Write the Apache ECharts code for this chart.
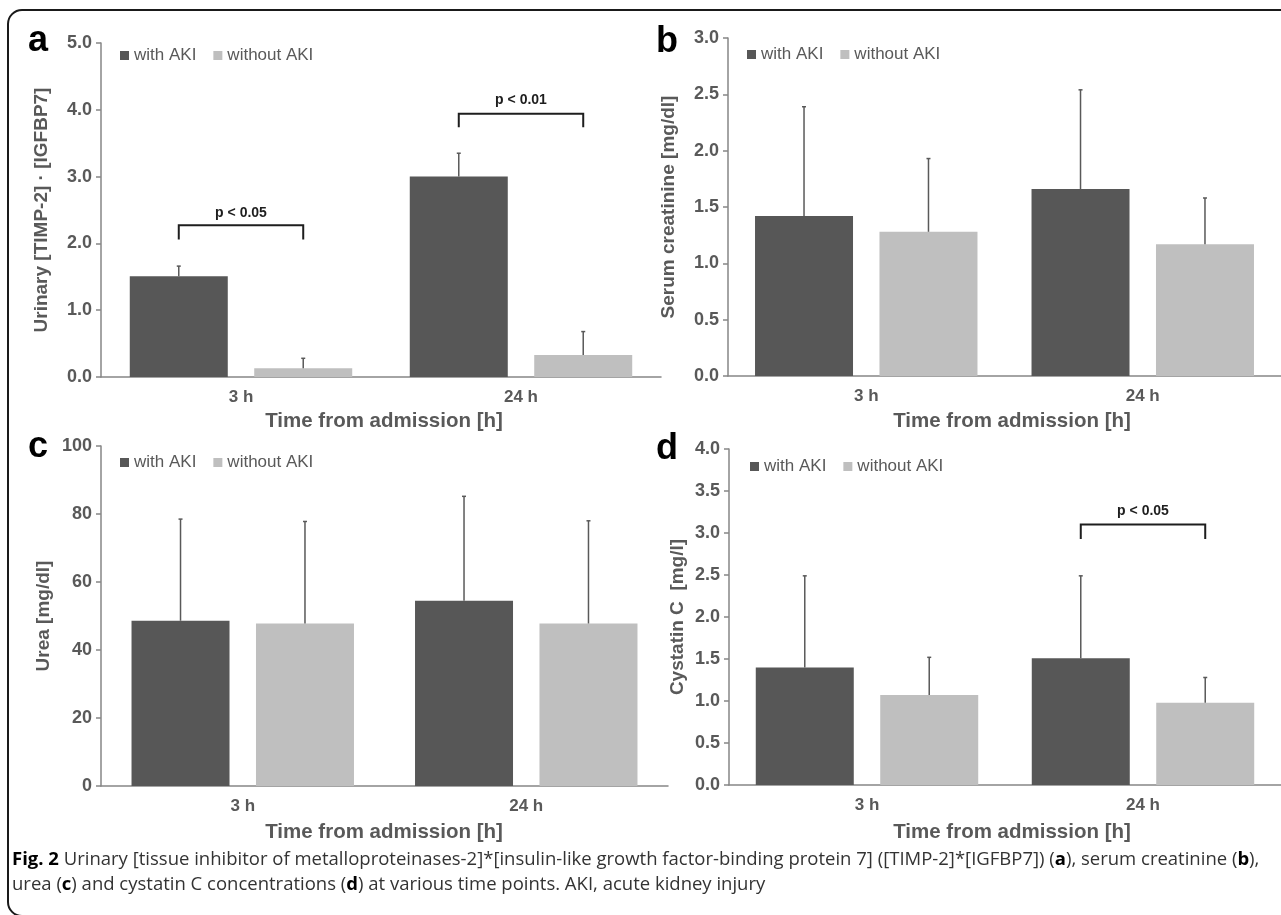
<!DOCTYPE html>
<html>
<head>
<meta charset="utf-8">
<script src="https://cdn.jsdelivr.net/npm/echarts@6/dist/echarts.min.js"></script>
<style>
html,body{margin:0;padding:0;background:#fff;}
#chart{width:1281px;height:915px;}
</style>
</head>
<body>
<div id="chart"></div>
<script>
// ---------- data ----------
const categories = ['3 h', '24 h'];
const seriesNames = ['with AKI', 'without AKI'];

// panel a: urinary [TIMP-2]·[IGFBP7]
const aWith = [1.51, 3.00];
const aWithErr = [1.66, 3.35];
const aWithout = [0.13, 0.33];
const aWithoutErr = [0.28, 0.68];
const aAxis = [0, 5, 1];
// [category, bracket level, leg bottom, label level, text]
const aBrackets = [[0, 2.27, 2.06, 2.46, 'p < 0.05'], [1, 3.94, 3.74, 4.15, 'p < 0.01']];

// panel b: serum creatinine
const bWith = [1.42, 1.66];
const bWithErr = [2.39, 2.54];
const bWithout = [1.28, 1.17];
const bWithoutErr = [1.93, 1.58];
const bAxis = [0, 3, 0.5];
const bBrackets = [];

// panel c: urea
const cWith = [48.6, 54.5];
const cWithErr = [78.5, 85.2];
const cWithout = [47.8, 47.8];
const cWithoutErr = [77.8, 78.0];
const cAxis = [0, 100, 20];
const cBrackets = [];

// panel d: cystatin C
const dWith = [1.40, 1.51];
const dWithErr = [2.49, 2.49];
const dWithout = [1.07, 0.98];
const dWithoutErr = [1.52, 1.28];
const dAxis = [0, 4, 0.5];
const dBrackets = [[1, 3.10, 2.93, 3.26, 'p < 0.05']];

const yNames = ['Urinary [TIMP-2] \u00b7 [IGFBP7]', 'Serum creatinine [mg/dl]', 'Urea [mg/dl]', 'Cystatin C  [mg/l]'];
const xTitle = 'Time from admission [h]';
const letters = ['a', 'b', 'c', 'd'];

// ---------- layout / style ----------
const FONT = "'Liberation Sans', Arial, sans-serif";
const DARK = '#575757', LIGHT = '#bfbfbf', GREY = '#595959', AXIS = '#868686';
const BAR_W = 98, GAP = 0.27;
const OFFSET = (BAR_W + BAR_W * GAP) / 2;

const panels = [
  {w: aWith, we: aWithErr, o: aWithout, oe: aWithoutErr, ax: aAxis, br: aBrackets, dec: 1,
   grid: {left: 101, top: 43, width: 560, height: 334}, legend: {left: 120, top: 47}, nameGap: 50,
   title: [384, 421], letter: [28, 41]},
  {w: bWith, we: bWithErr, o: bWithout, oe: bWithoutErr, ax: bAxis, br: bBrackets, dec: 1,
   grid: {left: 728, top: 38, width: 562, height: 338}, legend: {left: 747, top: 46}, nameGap: 50,
   title: [1012, 421], letter: [656, 42]},
  {w: cWith, we: cWithErr, o: cWithout, oe: cWithoutErr, ax: cAxis, br: cBrackets, dec: 0,
   grid: {left: 101, top: 446, width: 567, height: 340}, legend: {left: 120, top: 454}, nameGap: 48,
   title: [384, 832], letter: [28, 447]},
  {w: dWith, we: dWithErr, o: dWithout, oe: dWithoutErr, ax: dAxis, br: dBrackets, dec: 1,
   grid: {left: 729, top: 449, width: 562, height: 336}, legend: {left: 750, top: 458}, nameGap: 42,
   title: [1012, 832], letter: [656, 449]}
];

function errRender(params, api) {
  const cat = api.value(0), mean = api.value(1), top = api.value(2), side = api.value(3);
  const p0 = api.coord([cat, mean]);
  const p1 = api.coord([cat, top]);
  const x = p0[0] + side * OFFSET;
  const st = {stroke: GREY, lineWidth: 1.5};
  return {type: 'group', children: [
    {type: 'line', shape: {x1: x, y1: p0[1], x2: x, y2: p1[1]}, style: st},
    {type: 'line', shape: {x1: x - 2, y1: p1[1], x2: x + 2, y2: p1[1]}, style: st}
  ]};
}

function bracketRender(params, api) {
  const d = panelsBr[params.seriesIndex][params.dataIndex];
  const cat = d[0];
  const pb = api.coord([cat, d[1]]);
  const pl = api.coord([cat, d[2]]);
  const pt = api.coord([cat, d[3]]);
  const xl = pb[0] - OFFSET, xr = pb[0] + OFFSET;
  return {type: 'group', children: [
    {type: 'polyline', shape: {points: [[xl, pl[1]], [xl, pb[1]], [xr, pb[1]], [xr, pl[1]]]},
     style: {stroke: '#1e1e1e', lineWidth: 2, fill: null}},
    {type: 'text', style: {text: d[4], x: pb[0], y: pt[1], align: 'center', verticalAlign: 'middle',
     font: "bold 14px " + FONT, fill: '#1e1e1e'}}
  ]};
}

const panelsBr = {};
const grid = [], xAxis = [], yAxis = [], series = [], legend = [], graphic = [];

panels.forEach((p, i) => {
  grid.push(p.grid);
  xAxis.push({type: 'category', gridIndex: i, data: categories,
    axisLine: {lineStyle: {color: AXIS, width: 1.5}}, axisTick: {show: false},
    axisLabel: {color: GREY, fontFamily: FONT, fontWeight: 'bold', fontSize: 17, margin: 12}});
  yAxis.push({type: 'value', gridIndex: i, min: p.ax[0], max: p.ax[1], interval: p.ax[2],
    name: yNames[i], nameLocation: 'middle', nameRotate: 90, nameGap: p.nameGap,
    nameTextStyle: {color: GREY, fontFamily: FONT, fontWeight: 'bold', fontSize: 19},
    axisLine: {show: true, lineStyle: {color: AXIS, width: 1.5}},
    axisTick: {show: true, length: 5, lineStyle: {color: AXIS, width: 1.5}},
    splitLine: {show: false},
    axisLabel: {color: GREY, fontFamily: FONT, fontWeight: 'bold', fontSize: 18, margin: 9,
      formatter: v => v.toFixed(p.dec)}});
  series.push({type: 'bar', name: seriesNames[0], xAxisIndex: i, yAxisIndex: i, data: p.w,
    barWidth: BAR_W, barGap: (GAP * 100) + '%', itemStyle: {color: DARK}, z: 2});
  series.push({type: 'bar', name: seriesNames[1], xAxisIndex: i, yAxisIndex: i, data: p.o,
    barWidth: BAR_W, barGap: (GAP * 100) + '%', itemStyle: {color: LIGHT}, z: 2});
  const err = [];
  p.w.forEach((v, k) => err.push([k, v, p.we[k], -1]));
  p.o.forEach((v, k) => err.push([k, v, p.oe[k], 1]));
  series.push({type: 'custom', xAxisIndex: i, yAxisIndex: i, renderItem: errRender,
    data: err, encode: {x: 0, y: [1, 2]}, z: 3, silent: true});
  if (p.br.length) {
    const idx = series.length;
    panelsBr[idx] = p.br;
    series.push({type: 'custom', xAxisIndex: i, yAxisIndex: i, renderItem: bracketRender,
      data: p.br.map(b => [b[0], b[1], b[2], b[3]]), encode: {x: 0, y: [1, 2, 3]}, z: 4, silent: true});
  }
  legend.push({left: p.legend.left, top: p.legend.top, data: seriesNames, icon: 'rect',
    itemWidth: 9, itemHeight: 9, itemGap: 17, selectedMode: false, padding: 0,
    textStyle: {color: GREY, fontFamily: FONT, fontSize: 17}});
  graphic.push({type: 'text', x: p.title[0], y: p.title[1],
    style: {text: xTitle, align: 'center', verticalAlign: 'middle', font: 'bold 20.5px ' + FONT, fill: GREY}});
  graphic.push({type: 'text', x: p.letter[0], y: p.letter[1],
    style: {text: letters[i], align: 'left', verticalAlign: 'middle', font: 'bold 36px ' + FONT, fill: '#000'}});
});

// frame
graphic.push({type: 'rect', shape: {x: 8, y: 10, width: 1300, height: 906, r: 14},
  style: {fill: null, stroke: '#1a1a1a', lineWidth: 2}, z: -1});

// caption
const CAP = "'Open Sans', 'Noto Sans', sans-serif";
const CAP_SIZE = 18.5;
const capRich = {b: {fontWeight: 'bold', fill: '#000', fontFamily: CAP, fontSize: CAP_SIZE}};
graphic.push({type: 'text', x: 12, y: 860, style: {
  text: '{b|Fig. 2} Urinary [tissue inhibitor of metalloproteinases-2]*[insulin-like growth factor-binding protein 7] ([TIMP-2]*[IGFBP7]) ({b|a}), serum creatinine ({b|b}),',
  verticalAlign: 'middle', font: CAP_SIZE + 'px ' + CAP, fill: '#333', rich: capRich}});
graphic.push({type: 'text', x: 12, y: 885, style: {
  text: 'urea ({b|c}) and cystatin C concentrations ({b|d}) at various time points. AKI, acute kidney injury',
  verticalAlign: 'middle', font: CAP_SIZE + 'px ' + CAP, fill: '#333', rich: capRich}});

const chart = echarts.init(document.getElementById('chart'), null, {renderer: 'canvas'});
chart.setOption({animation: false, backgroundColor: '#fff', grid, xAxis, yAxis, series, legend, graphic});
</script>
</body>
</html>
